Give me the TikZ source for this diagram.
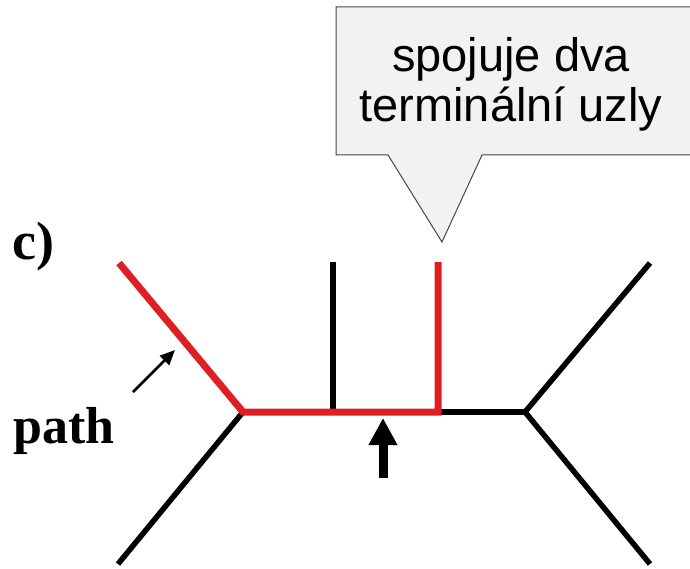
\documentclass[tikz,border=0pt]{standalone}
\usepackage{fontspec}
\setmainfont{Liberation Serif}
\newfontfamily\calloutfont{Liberation Sans}
\usetikzlibrary{arrows.meta}
\definecolor{pathred}{RGB}{222,32,36}
\definecolor{calloutgray}{RGB}{242,242,242}
\definecolor{calloutline}{RGB}{70,70,70}
\tikzset{
  edgeblack/.style={line width=5.5pt, black},
  edgered/.style={line width=7pt, pathred},
  lbl/.style={inner sep=0pt, font=\bfseries\fontsize{54}{54}\selectfont, anchor=base west},
  pathlbl/.style={inner sep=0pt, font=\bfseries\fontsize{52}{52}\selectfont, anchor=base west},
  ctext/.style={inner sep=0pt, font=\calloutfont\fontsize{47}{47}\selectfont, anchor=base},
}
\begin{document}
\begin{tikzpicture}[x=1pt,y=-1pt]
\useasboundingbox (0,0) rectangle (690,569);
\clip (0,0) rectangle (690,569);
% callout
\draw[fill=calloutgray, draw=calloutline, line width=1pt]
  (336,7) -- (695,7) -- (695,155) -- (482,155) -- (442,242) -- (388,155) -- (336,155) -- cycle;
\node[ctext] (t1) at (511,72) {spojuje dva};
\node[ctext] (t2) at (511,122) {terminální uzly};
% tree coordinates
\coordinate (ul) at (119,263);
\coordinate (ll) at (118,564);
\coordinate (jl) at (243,412);
\coordinate (vb) at (333,412);
\coordinate (vbt) at (333,262);
\coordinate (vr) at (438,412);
\coordinate (vrt) at (438,262);
\coordinate (jr) at (525,412);
\coordinate (ur) at (650,263);
\coordinate (lr) at (650,564);
% black edges
\draw[edgeblack] (jl) -- (ll);
\draw[edgeblack] (vb) -- (vbt);
\draw[edgeblack] (vr) -- (jr);
\draw[edgeblack] (jr) -- (ur);
\draw[edgeblack] (jr) -- (lr);
% red path
\draw[edgered, line join=miter] (ul) -- (jl) -- (vr) -- (vrt);
% labels
\node[lbl] (c) at (12,259) {c)};
\node[pathlbl] (p) at (13,443) {path};
% small arrow
\coordinate (sa) at (133,392);
\coordinate (sb) at (175,350);
\draw[line width=2.5pt, -{Triangle[length=15pt,width=13pt]}] (sa) -- (sb);
% big arrow
\coordinate (ba) at (383,478);
\coordinate (bb) at (383,418);
\draw[line width=9pt, -{Triangle[length=27pt,width=27pt]}] (ba) -- (bb);
\end{tikzpicture}
\end{document}
